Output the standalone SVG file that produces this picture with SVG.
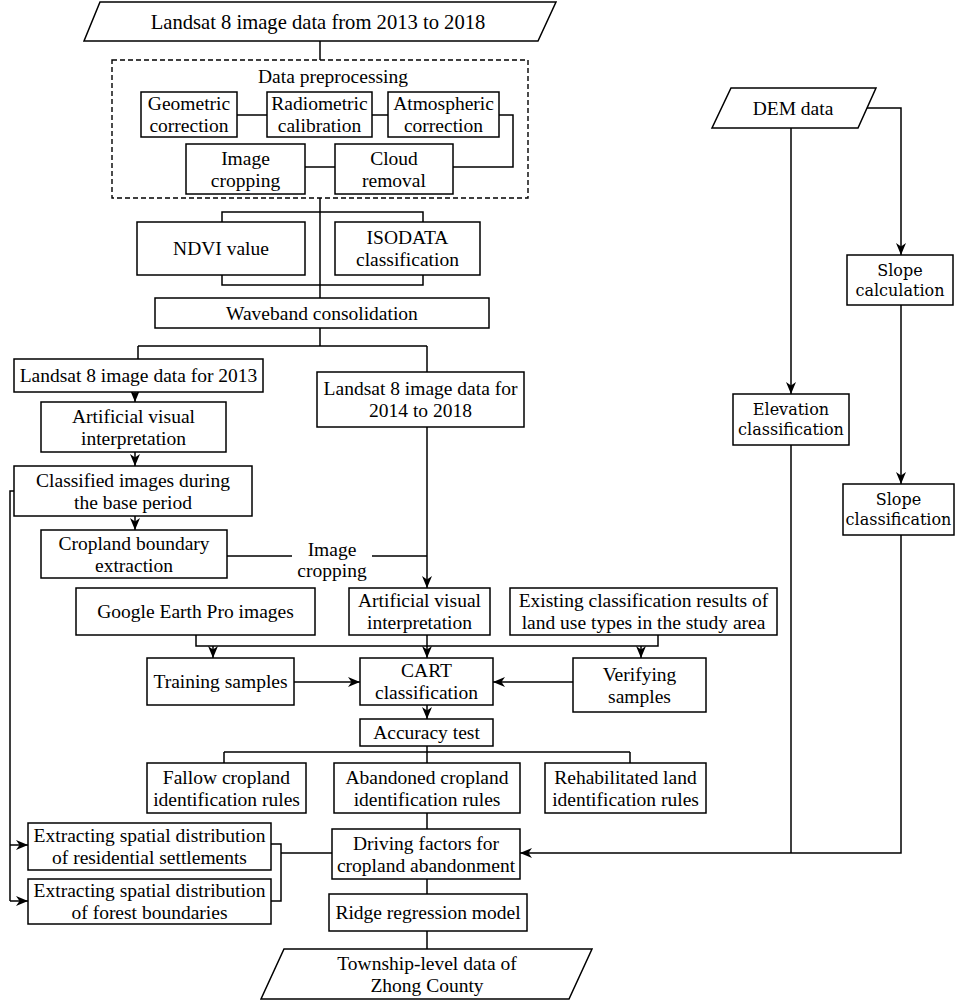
<svg xmlns="http://www.w3.org/2000/svg" width="955" height="1000" viewBox="0 0 955 1000">
<defs>
<marker id="arr" viewBox="0 0 12 10" refX="12" refY="5" markerWidth="12" markerHeight="10" markerUnits="userSpaceOnUse" orient="auto">
<path d="M0,0 L12,5 L0,10 L3.5,5 Z" fill="#000"/>
</marker>
<style>
.box{fill:#fff;stroke:#000;stroke-width:1.5}
.dash{fill:none;stroke:#000;stroke-width:1.4;stroke-dasharray:5,3}
.ln{fill:none;stroke:#000;stroke-width:1.5}
.ar{fill:none;stroke:#000;stroke-width:1.5;marker-end:url(#arr)}
text{font-family:"Liberation Serif","Times New Roman",serif;font-size:19.5px;text-anchor:middle;fill:#000}
.r{font-family:"DejaVu Serif",serif;font-size:16px}
.big{font-size:20.6px}
</style>
</defs>
<rect width="955" height="1000" fill="#fff"/>
<g id="connectors">
<path class="ln" d="M320,41V60"/>
<path class="ln" d="M237,115H267M372,115H388"/>
<path class="ln" d="M499,115H513V167H453"/>
<path class="ln" d="M305,167H335"/>
<path class="ln" d="M320,198V298"/>
<path class="ln" d="M222,222V212H423V222"/>
<path class="ln" d="M222,275V285H423V275"/>
<path class="ln" d="M320,328V346M138,346H427M138,346V359"/>
<path class="ln" d="M427,346V372"/>
<path class="ar" d="M135,392V402"/>
<path class="ar" d="M135,452V466"/>
<path class="ar" d="M135,516V530"/>
<path class="ln" d="M14,491H10V901"/>
<path class="ar" d="M10,845H28"/>
<path class="ar" d="M10,901H28"/>
<path class="ln" d="M227,556H292M372,556H427"/>
<path class="ar" d="M427,427V588"/>
<path class="ln" d="M196,635V646H658V635"/>
<path class="ar" d="M213,646V658"/>
<path class="ar" d="M641,646V658"/>
<path class="ar" d="M427,635V658"/>
<path class="ar" d="M294,682H360"/>
<path class="ar" d="M573,682H493"/>
<path class="ar" d="M427,705V719"/>
<path class="ln" d="M427,746V763M224,752H630M224,752V763M630,752V763"/>
<path class="ln" d="M427,813V829"/>
<path class="ln" d="M271,844H281V901H271M281,853H332"/>
<path class="ln" d="M427,879V894M427,931V949"/>
<path class="ar" d="M791,128V394"/>
<path class="ar" d="M867,108H901V255"/>
<path class="ar" d="M901,305V484"/>
<path class="ln" d="M791,445V853"/>
<path class="ar" d="M901,535V853H520"/>
</g>
<g id="n_landsat_all"><polygon class="box" points="100,2 556,2 538,41 84,41"/><text class="big" x="318" y="28.5">Landsat 8 image data from 2013 to 2018</text></g>
<g id="n_preprocessing"><rect class="dash" x="112" y="60" width="416" height="138"/><text x="333" y="82.5">Data preprocessing</text></g>
<g id="n_geometric"><rect class="box" x="141" y="92" width="96" height="45"/><text x="189" y="110">Geometric</text><text x="189" y="132">correction</text></g>
<g id="n_radiometric"><rect class="box" x="267" y="92" width="105" height="45"/><text x="319.5" y="110">Radiometric</text><text x="319.5" y="132">calibration</text></g>
<g id="n_atmospheric"><rect class="box" x="388" y="92" width="111" height="45"/><text x="443.5" y="110">Atmospheric</text><text x="443.5" y="132">correction</text></g>
<g id="n_cropping"><rect class="box" x="186" y="144" width="119" height="50"/><text x="245.5" y="164.5">Image</text><text x="245.5" y="186.5">cropping</text></g>
<g id="n_cloud"><rect class="box" x="335" y="144" width="118" height="50"/><text x="394" y="164.5">Cloud</text><text x="394" y="186.5">removal</text></g>
<g id="n_ndvi"><rect class="box" x="137" y="222" width="168" height="53"/><text x="221" y="255">NDVI value</text></g>
<g id="n_isodata"><rect class="box" x="335" y="222" width="145" height="53"/><text x="407.5" y="244">ISODATA</text><text x="407.5" y="266">classification</text></g>
<g id="n_waveband"><rect class="box" x="155" y="298" width="334" height="30"/><text x="322" y="319.5">Waveband consolidation</text></g>
<g id="n_l2013"><rect class="box" x="14" y="359" width="249" height="33"/><text x="138.5" y="382">Landsat 8 image data for 2013</text></g>
<g id="n_visual1"><rect class="box" x="41" y="402" width="185" height="50"/><text x="133.5" y="422.5">Artificial visual</text><text x="133.5" y="444.5">interpretation</text></g>
<g id="n_classified"><rect class="box" x="14" y="466" width="238" height="50"/><text x="133" y="486.5">Classified images during</text><text x="133" y="508.5">the base period</text></g>
<g id="n_cropland"><rect class="box" x="41" y="530" width="186" height="48"/><text x="134" y="549.5">Cropland boundary</text><text x="134" y="571.5">extraction</text></g>
<g id="l_cropping"><text x="332" y="556">Image</text><text x="332" y="577">cropping</text></g>
<g id="n_l2014"><rect class="box" x="317" y="372" width="207" height="55"/><text x="420.5" y="395">Landsat 8 image data for</text><text x="420.5" y="417">2014 to 2018</text></g>
<g id="n_google"><rect class="box" x="76" y="588" width="239" height="47"/><text x="195.5" y="618">Google Earth Pro images</text></g>
<g id="n_visual2"><rect class="box" x="349" y="588" width="141" height="47"/><text x="419.5" y="607">Artificial visual</text><text x="419.5" y="629">interpretation</text></g>
<g id="n_existing"><rect class="box" x="510" y="588" width="267" height="47"/><text x="643.5" y="607">Existing classification results of</text><text x="643.5" y="629">land use types in the study area</text></g>
<g id="n_training"><rect class="box" x="147" y="658" width="147" height="47"/><text x="220.5" y="688">Training samples</text></g>
<g id="n_cart"><rect class="box" x="360" y="658" width="133" height="47"/><text x="426.5" y="677">CART</text><text x="426.5" y="699">classification</text></g>
<g id="n_verifying"><rect class="box" x="573" y="658" width="133" height="54"/><text x="639.5" y="680.5">Verifying</text><text x="639.5" y="702.5">samples</text></g>
<g id="n_accuracy"><rect class="box" x="360" y="719" width="133" height="27"/><text x="426.5" y="739">Accuracy test</text></g>
<g id="n_fallow"><rect class="box" x="147" y="763" width="159" height="50"/><text x="226.5" y="783.5">Fallow cropland</text><text x="226.5" y="805.5">identification rules</text></g>
<g id="n_abandoned"><rect class="box" x="334" y="763" width="186" height="50"/><text x="427" y="783.5">Abandoned cropland</text><text x="427" y="805.5">identification rules</text></g>
<g id="n_rehab"><rect class="box" x="545" y="763" width="161" height="50"/><text x="625.5" y="783.5">Rehabilitated land</text><text x="625.5" y="805.5">identification rules</text></g>
<g id="n_residential"><rect class="box" x="28" y="823" width="243" height="47"/><text x="149.5" y="842">Extracting spatial distribution</text><text x="149.5" y="864">of residential settlements</text></g>
<g id="n_forest"><rect class="box" x="28" y="879" width="243" height="45"/><text x="149.5" y="897">Extracting spatial distribution</text><text x="149.5" y="919">of forest boundaries</text></g>
<g id="n_driving"><rect class="box" x="332" y="829" width="188" height="50"/><text x="426" y="849.5">Driving factors for</text><text x="426" y="871.5">cropland abandonment</text></g>
<g id="n_ridge"><rect class="box" x="329" y="894" width="198" height="37"/><text x="428" y="919">Ridge regression model</text></g>
<g id="n_township"><polygon class="box" points="284,949 592,949 569,999 261,999"/><text x="427" y="969.5">Township-level data of</text><text x="427" y="991.5">Zhong County</text></g>
<g id="n_dem"><polygon class="box" points="731,88 876,88 858,128 712,128"/><text x="793" y="114.5">DEM data</text></g>
<g id="n_slopecalc"><rect class="box" x="847" y="255" width="106" height="50"/><text class="r" x="900" y="276">Slope</text><text class="r" x="900" y="296">calculation</text></g>
<g id="n_elevation"><rect class="box" x="733" y="394" width="116" height="51"/><text class="r" x="791" y="415">Elevation</text><text class="r" x="791" y="435">classification</text></g>
<g id="n_slopeclass"><rect class="box" x="843" y="484" width="111" height="51"/><text class="r" x="898.5" y="505">Slope</text><text class="r" x="898.5" y="525">classification</text></g>
</svg>
